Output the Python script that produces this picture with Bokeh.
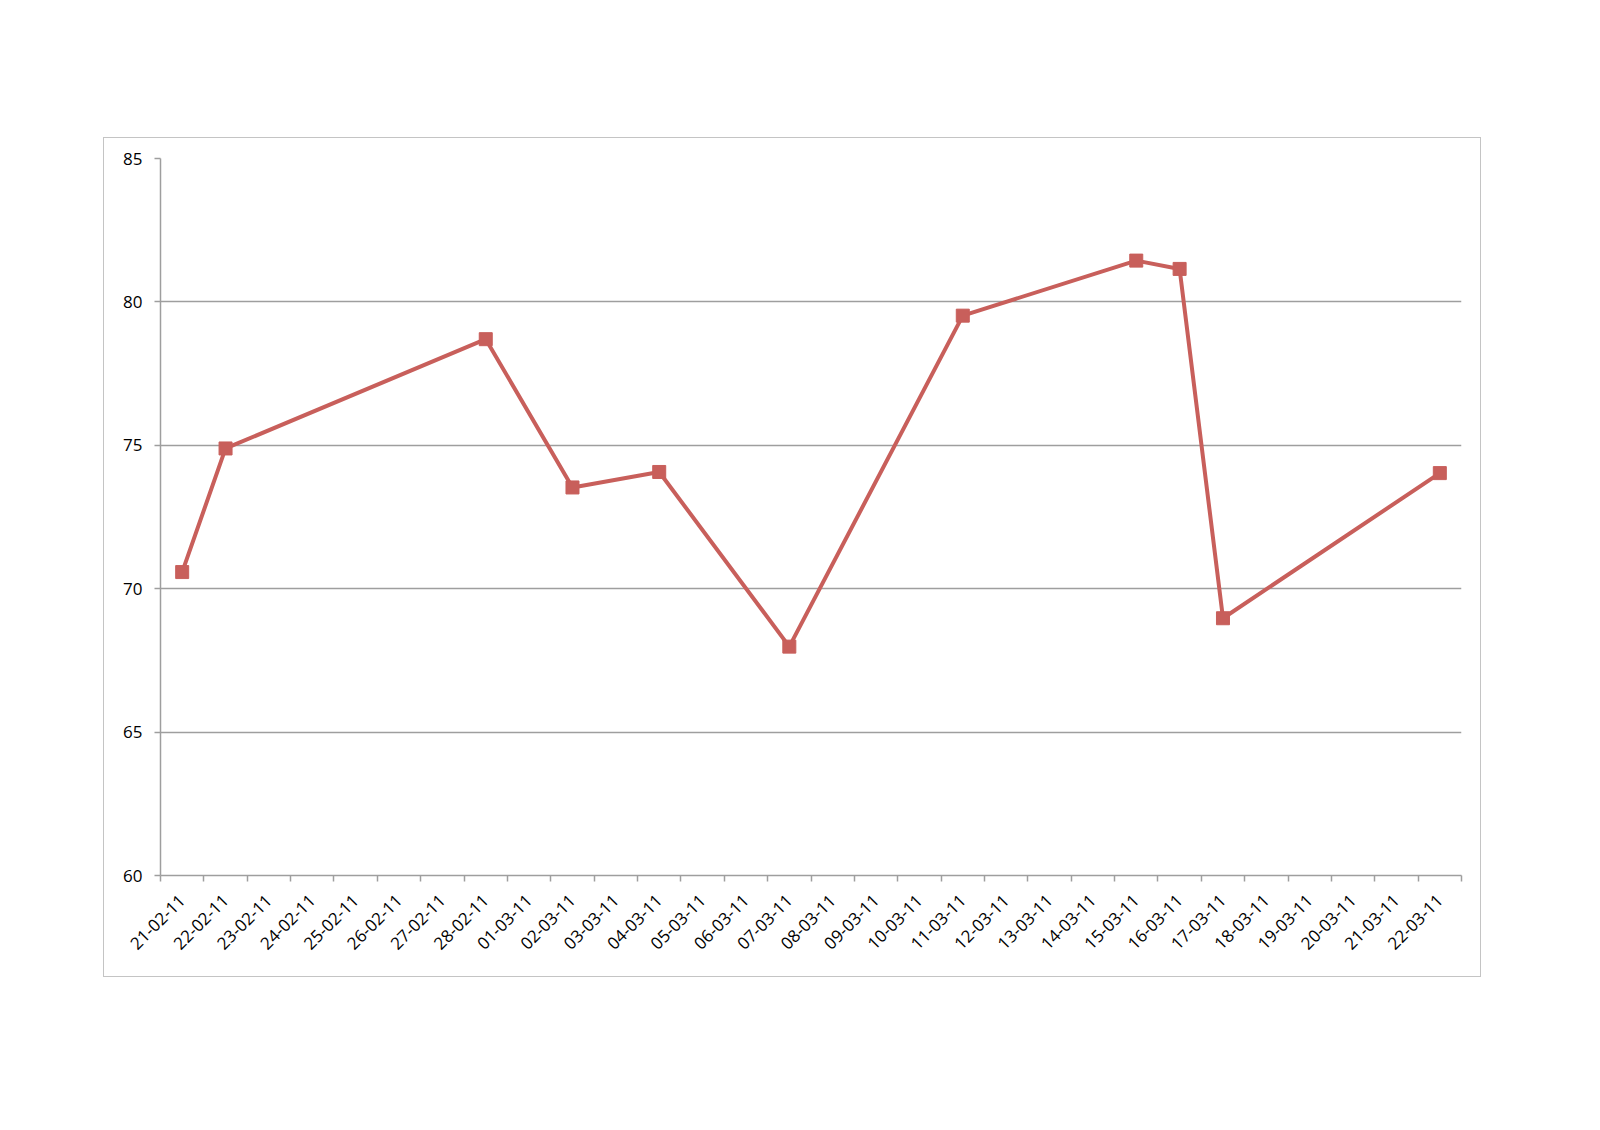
import math
from bokeh.plotting import figure
from bokeh.models import FixedTicker, Range1d, Spacer
from bokeh.layouts import column, row
from bokeh.embed import file_html
from bokeh.resources import INLINE

# ---- data ----
dates = ["21-02-11", "22-02-11", "23-02-11", "24-02-11", "25-02-11", "26-02-11",
         "27-02-11", "28-02-11", "01-03-11", "02-03-11", "03-03-11", "04-03-11",
         "05-03-11", "06-03-11", "07-03-11", "08-03-11", "09-03-11", "10-03-11",
         "11-03-11", "12-03-11", "13-03-11", "14-03-11", "15-03-11", "16-03-11",
         "17-03-11", "18-03-11", "19-03-11", "20-03-11", "21-03-11", "22-03-11"]
obs_dates = ["21-02-11", "22-02-11", "28-02-11", "02-03-11", "04-03-11", "07-03-11",
             "11-03-11", "15-03-11", "16-03-11", "17-03-11", "22-03-11"]
values = [70.58, 74.89, 78.70, 73.53, 74.07, 67.98, 79.52, 81.44, 81.15, 68.97, 74.03]
y_ticks = [60, 65, 70, 75, 80, 85]

LINE = "#C85F5B"
GRID = "#9e9e9e"
FONT = "Open Sans"

xs = [dates.index(d) + 0.5 for d in obs_dates]

p = figure(width=1378, height=840,
           x_range=Range1d(0, len(dates)), y_range=Range1d(y_ticks[0], y_ticks[-1]),
           output_backend="svg", toolbar_location=None,
           min_border_left=56, min_border_right=21, min_border_top=20, min_border_bottom=103)
p.outline_line_color = None
p.background_fill_color = "white"
p.border_fill_color = "white"
p.styles = {"border": "1px solid #c4c4c4"}

p.xgrid.visible = False
p.ygrid.ticker = FixedTicker(ticks=y_ticks[1:])
p.ygrid.grid_line_color = GRID
p.ygrid.grid_line_width = 1.5

# x axis
xa = p.xaxis[0]
xa.ticker = FixedTicker(ticks=[i + 0.5 for i in range(len(dates))],
                        minor_ticks=list(range(len(dates) + 1)))
xa.major_label_overrides = {i + 0.5: d for i, d in enumerate(dates)}
xa.major_label_orientation = math.pi / 4
xa.major_tick_out = 0
xa.major_tick_in = 0
xa.minor_tick_out = 6
xa.minor_tick_in = 0
xa.minor_tick_line_color = GRID
xa.minor_tick_line_width = 1.5
xa.axis_line_color = GRID
xa.axis_line_width = 1.5
xa.major_label_standoff = 16
xa.major_label_text_font = FONT
xa.major_label_text_font_size = "17px"
xa.major_label_text_color = "black"

# y axis
ya = p.yaxis[0]
ya.ticker = FixedTicker(ticks=y_ticks)
ya.major_tick_out = 6
ya.major_tick_in = 0
ya.major_tick_line_color = GRID
ya.major_tick_line_width = 1.5
ya.minor_tick_line_color = None
ya.axis_line_color = GRID
ya.axis_line_width = 1.5
ya.major_label_standoff = 12
ya.major_label_text_font = FONT
ya.major_label_text_font_size = "17px"
ya.major_label_text_color = "black"

p.line(xs, values, line_color=LINE, line_width=4)
p.scatter(xs, values, marker="square", size=13, fill_color=LINE, line_color=LINE)

layout = column(Spacer(height=137), row(Spacer(width=103), p))
open("out.html", "w").write(file_html(layout, INLINE))
